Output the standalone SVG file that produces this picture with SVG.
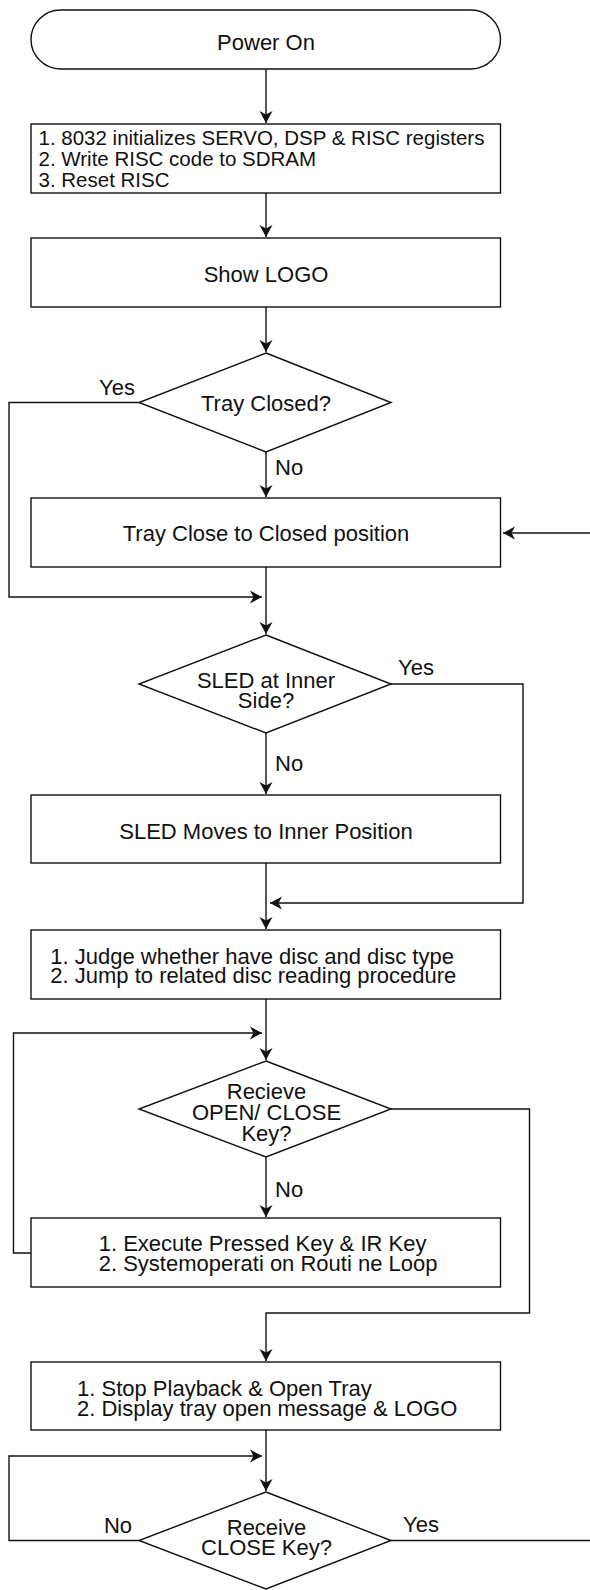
<svg xmlns="http://www.w3.org/2000/svg" width="590" height="1590" viewBox="0 0 590 1590">
<style>
.s{fill:#fff;stroke:#111;stroke-width:1.4}
.c{fill:none;stroke:#111;stroke-width:1.4}
text{font-family:"Liberation Sans",Arial,Helvetica,sans-serif;font-size:22px;fill:#111}
.m{text-anchor:middle}
.b{font-size:20.5px}
</style>
<defs>
<marker id="a" viewBox="-13 -7 14 14" refX="0" refY="0" markerWidth="14" markerHeight="14" markerUnits="userSpaceOnUse" orient="auto">
<path d="M0,0 L-12,-6.5 L-8.5,0 L-12,6.5 Z" fill="#111"/>
</marker>
</defs>
<rect width="590" height="1590" fill="#fff"/>
<g id="connectors">
<path class="c" d="M266,69 V123" marker-end="url(#a)"/>
<path class="c" d="M266,193 V237" marker-end="url(#a)"/>
<path class="c" d="M266,307 V352" marker-end="url(#a)"/>
<path class="c" d="M266,452 V497" marker-end="url(#a)"/>
<path class="c" d="M139,402.5 H9 V597 H262" marker-end="url(#a)"/>
<path class="c" d="M590,533 H503" marker-end="url(#a)"/>
<path class="c" d="M266,567 V634" marker-end="url(#a)"/>
<path class="c" d="M266,733 V794" marker-end="url(#a)"/>
<path class="c" d="M391,684 H523 V903 H270" marker-end="url(#a)"/>
<path class="c" d="M266,863 V929" marker-end="url(#a)"/>
<path class="c" d="M266,999 V1060" marker-end="url(#a)"/>
<path class="c" d="M31,1253 H13.5 V1033 H262" marker-end="url(#a)"/>
<path class="c" d="M266,1157 V1217" marker-end="url(#a)"/>
<path class="c" d="M391,1109 H529.5 V1313 H266 V1361" marker-end="url(#a)"/>
<path class="c" d="M266,1430 V1491" marker-end="url(#a)"/>
<path class="c" d="M139,1540.5 H9 V1456 H262" marker-end="url(#a)"/>
<path class="c" d="M391,1540.5 H590"/>
</g>
<g id="power-on">
<rect class="s" x="31" y="10" width="469.5" height="59" rx="29.5" ry="29.5"/>
<text class="m" x="266" y="49.5">Power On</text>
</g>
<g id="init">
<rect class="s" x="31" y="124" width="469.5" height="69"/>
<text class="b" x="38.5" y="145.3">1. 8032 initializes SERVO, DSP &amp; RISC registers</text>
<text class="b" x="38.5" y="166.3">2. Write RISC code to SDRAM</text>
<text class="b" x="38.5" y="187.3">3. Reset RISC</text>
</g>
<g id="show-logo">
<rect class="s" x="31" y="238" width="469.5" height="69"/>
<text class="m" x="266" y="282">Show LOGO</text>
</g>
<g id="tray-closed">
<path class="s" d="M266,353 L391,402.5 L266,452 L139,402.5 Z"/>
<text class="m" x="266" y="411">Tray Closed?</text>
<text class="m" x="117" y="394.5">Yes</text>
<text x="275" y="474.5">No</text>
</g>
<g id="tray-close">
<rect class="s" x="31" y="498" width="469.5" height="69"/>
<text class="m" x="266" y="541">Tray Close to Closed position</text>
</g>
<g id="sled-inner">
<path class="s" d="M266,635 L391,684 L266,733 L139,684 Z"/>
<text class="m" x="266" y="688">SLED at Inner</text>
<text class="m" x="266" y="708">Side?</text>
<text class="m" x="416" y="674.5">Yes</text>
<text x="275" y="770.5">No</text>
</g>
<g id="sled-moves">
<rect class="s" x="31" y="795" width="469.5" height="68"/>
<text class="m" x="266" y="838.5">SLED Moves to Inner Position</text>
</g>
<g id="judge">
<rect class="s" x="31" y="930" width="469.5" height="69"/>
<text x="50.3" y="964">1. Judge whether have disc and disc type</text>
<text x="50.3" y="983">2. Jump to related disc reading procedure</text>
</g>
<g id="recieve-open-close">
<path class="s" d="M266,1061 L391,1109 L266,1157 L139,1109 Z"/>
<text class="m" x="266.5" y="1098.5">Recieve</text>
<text class="m" x="266.5" y="1119.5">OPEN/ CLOSE</text>
<text class="m" x="266.5" y="1140.5">Key?</text>
<text x="275" y="1197">No</text>
</g>
<g id="execute">
<rect class="s" x="31" y="1218" width="469.5" height="69"/>
<text x="98.7" y="1251">1. Execute Pressed Key &amp; IR Key</text>
<text x="98.7" y="1271">2. Systemoperati on Routi ne Loop</text>
</g>
<g id="stop-playback">
<rect class="s" x="31" y="1362" width="469.5" height="68"/>
<text x="77" y="1395.5">1. Stop Playback &amp; Open Tray</text>
<text x="77" y="1415.5">2. Display tray open message &amp; LOGO</text>
</g>
<g id="receive-close">
<path class="s" d="M266,1492 L391,1540.5 L266,1589 L139,1540.5 Z"/>
<text class="m" x="266.5" y="1535">Receive</text>
<text class="m" x="266.5" y="1555">CLOSE Key?</text>
<text class="m" x="118" y="1533">No</text>
<text class="m" x="421" y="1532">Yes</text>
</g>
</svg>
